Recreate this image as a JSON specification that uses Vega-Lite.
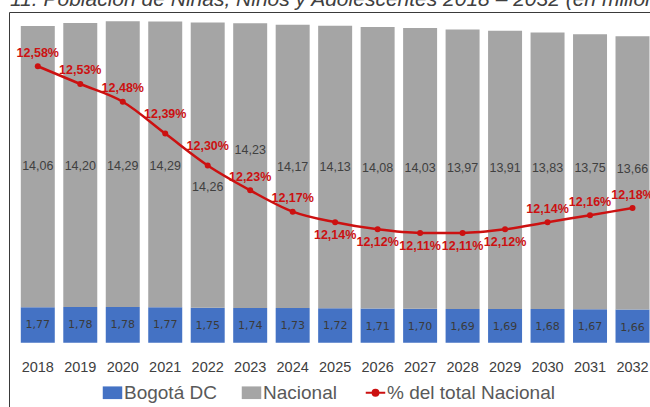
{
  "$schema": "https://vega.github.io/schema/vega-lite/v6.json",
  "width": 641,
  "height": 395,
  "autosize": "none",
  "padding": {"left": 9, "top": 12, "right": 0, "bottom": 0},
  "background": "white",
  "title": {
    "text": "11. Población de Niñas, Niños y Adolescentes 2018 – 2032 (en millones)",
    "anchor": "start",
    "frame": "group",
    "offset": 0,
    "baseline": "alphabetic",
    "dx": 1,
    "dy": 15,
    "font": "Liberation Sans",
    "fontSize": 21,
    "fontStyle": "italic",
    "fontWeight": "normal",
    "color": "#404040",
    "limit": 2000
  },
  "config": {
    "view": {"stroke": "#3a3a3a", "strokeWidth": 1},
    "locale": {"number": {"decimal": ",", "thousands": ".", "grouping": [3], "currency": ["$", ""]}}
  },
  "data": {
    "values": [
      {"year": "2018", "Bogotá DC": 1.77, "Nacional": 14.06, "pct": 0.1258},
      {"year": "2019", "Bogotá DC": 1.78, "Nacional": 14.20, "pct": 0.1253},
      {"year": "2020", "Bogotá DC": 1.78, "Nacional": 14.29, "pct": 0.1248},
      {"year": "2021", "Bogotá DC": 1.77, "Nacional": 14.29, "pct": 0.1239},
      {"year": "2022", "Bogotá DC": 1.75, "Nacional": 14.26, "pct": 0.1230},
      {"year": "2023", "Bogotá DC": 1.74, "Nacional": 14.23, "pct": 0.1223},
      {"year": "2024", "Bogotá DC": 1.73, "Nacional": 14.17, "pct": 0.1217},
      {"year": "2025", "Bogotá DC": 1.72, "Nacional": 14.13, "pct": 0.1214},
      {"year": "2026", "Bogotá DC": 1.71, "Nacional": 14.08, "pct": 0.1212},
      {"year": "2027", "Bogotá DC": 1.70, "Nacional": 14.03, "pct": 0.1211},
      {"year": "2028", "Bogotá DC": 1.69, "Nacional": 13.97, "pct": 0.1211},
      {"year": "2029", "Bogotá DC": 1.69, "Nacional": 13.91, "pct": 0.1212},
      {"year": "2030", "Bogotá DC": 1.68, "Nacional": 13.83, "pct": 0.1214},
      {"year": "2031", "Bogotá DC": 1.67, "Nacional": 13.75, "pct": 0.1216},
      {"year": "2032", "Bogotá DC": 1.66, "Nacional": 13.66, "pct": 0.1218}
    ]
  },
  "encoding": {
    "x": {
      "field": "year",
      "type": "ordinal",
      "scale": {"type": "band", "range": [11.8, 640.5], "paddingInner": 0.2, "paddingOuter": 0},
      "axis": {
        "title": null,
        "orient": "bottom",
        "offset": -40,
        "domain": false,
        "ticks": false,
        "labelPadding": 0,
        "labelBaseline": "middle",
        "labelAngle": 0,
        "labelFont": "Liberation Sans",
        "labelFontSize": 14.5,
        "labelColor": "#404040"
      }
    }
  },
  "layer": [
    {
      "layer": [
        {
          "transform": [{"fold": ["Bogotá DC", "Nacional"], "as": ["serie", "valor"]}],
          "mark": {"type": "bar"},
          "encoding": {
            "y": {"field": "valor", "type": "quantitative", "stack": "zero", "scale": {"domain": [-3.215, 16.535], "nice": false, "zero": false}, "axis": null},
            "color": {
              "field": "serie",
              "type": "nominal",
              "scale": {"domain": ["Bogotá DC", "Nacional", "% del total Nacional"], "range": ["#4472C4", "#A5A5A5", "#CC1111"]},
              "legend": {
                "orient": "none",
                "legendX": 94,
                "legendY": 371,
                "direction": "horizontal",
                "title": null,
                "symbolSize": 380,
                "labelFont": "Liberation Sans",
                "labelFontSize": 19,
                "labelColor": "#595959",
                "labelOffset": 2,
                "labelLimit": 400,
                "columnPadding": 24,
                "padding": 0,
                "symbolStrokeWidth": 0,
                "encode": {
                  "symbols": {
                    "update": {
                      "shape": {"signal": "datum.value === '% del total Nacional' ? 'M-1,0H1M-0.3,0A0.3,0.3 0 1,1 0.3,0A0.3,0.3 0 1,1 -0.3,0Z' : 'M-1,-0.65H1V0.65H-1Z'"},
                      "fill": {"signal": "scale('color', datum.value)"},
                      "stroke": {"signal": "scale('color', datum.value)"},
                      "strokeWidth": {"signal": "datum.value === '% del total Nacional' ? 2 : 0"},
                      "opacity": {"value": 1},
                      "fillOpacity": {"value": 1}
                    }
                  }
                }
              }
            },
            "order": {"field": "serie", "sort": "ascending"}
          }
        },
        {
          "mark": {"type": "text", "baseline": "middle", "dy": 18, "font": "DejaVu Sans", "fontSize": 11, "color": "#3a3a3a"},
          "encoding": {
            "y": {"field": "Bogotá DC", "type": "quantitative", "scale": {"domain": [-3.215, 16.535], "nice": false, "zero": false}},
            "text": {"field": "Bogotá DC", "type": "quantitative", "format": ".2f"}
          }
        },
        {
          "transform": [{"filter": "datum.year !== '2022' && datum.year !== '2023'"}],
          "mark": {"type": "text", "baseline": "middle", "dy": -141, "font": "Liberation Sans", "fontSize": 12.5, "color": "#404040"},
          "encoding": {
            "y": {"field": "Bogotá DC", "type": "quantitative", "scale": {"domain": [-3.215, 16.535], "nice": false, "zero": false}},
            "text": {"field": "Nacional", "type": "quantitative", "format": ".2f"}
          }
        },
        {
          "transform": [{"filter": "datum.year === '2022'"}],
          "mark": {"type": "text", "baseline": "middle", "dy": -121, "font": "Liberation Sans", "fontSize": 12.5, "color": "#404040"},
          "encoding": {
            "y": {"field": "Bogotá DC", "type": "quantitative", "scale": {"domain": [-3.215, 16.535], "nice": false, "zero": false}},
            "text": {"field": "Nacional", "type": "quantitative", "format": ".2f"}
          }
        },
        {
          "transform": [{"filter": "datum.year === '2023'"}],
          "mark": {"type": "text", "baseline": "middle", "dy": -158, "font": "Liberation Sans", "fontSize": 12.5, "color": "#404040"},
          "encoding": {
            "y": {"field": "Bogotá DC", "type": "quantitative", "scale": {"domain": [-3.215, 16.535], "nice": false, "zero": false}},
            "text": {"field": "Nacional", "type": "quantitative", "format": ".2f"}
          }
        }
      ]
    },
    {
      "layer": [
        {
          "mark": {"type": "line", "interpolate": "monotone", "strokeWidth": 2.5, "point": {"filled": true, "size": 36}},
          "encoding": {
            "y": {"field": "pct", "type": "quantitative", "scale": {"domain": [0.11619, 0.12733], "nice": false, "zero": false}, "axis": null},
            "color": {"datum": "% del total Nacional"}
          }
        },
        {
          "transform": [{"filter": "indexof(['2018','2019','2020','2023','2024','2030','2031','2032'], datum.year) >= 0"}],
          "mark": {"type": "text", "baseline": "middle", "dy": -13.5, "font": "Liberation Sans", "fontSize": 12.5, "fontWeight": "bold", "color": "#CC1111"},
          "encoding": {
            "y": {"field": "pct", "type": "quantitative", "scale": {"domain": [0.11619, 0.12733], "nice": false, "zero": false}},
            "text": {"field": "pct", "type": "quantitative", "format": ".2%"}
          }
        },
        {
          "transform": [{"filter": "datum.year === '2021' || datum.year === '2022'"}],
          "mark": {"type": "text", "baseline": "middle", "dy": -19.5, "font": "Liberation Sans", "fontSize": 12.5, "fontWeight": "bold", "color": "#CC1111"},
          "encoding": {
            "y": {"field": "pct", "type": "quantitative", "scale": {"domain": [0.11619, 0.12733], "nice": false, "zero": false}},
            "text": {"field": "pct", "type": "quantitative", "format": ".2%"}
          }
        },
        {
          "transform": [{"filter": "indexof(['2025','2026','2027','2028','2029'], datum.year) >= 0"}],
          "mark": {"type": "text", "baseline": "middle", "dy": 13, "font": "Liberation Sans", "fontSize": 12.5, "fontWeight": "bold", "color": "#CC1111"},
          "encoding": {
            "y": {"field": "pct", "type": "quantitative", "scale": {"domain": [0.11619, 0.12733], "nice": false, "zero": false}},
            "text": {"field": "pct", "type": "quantitative", "format": ".2%"}
          }
        }
      ]
    }
  ],
  "resolve": {"scale": {"y": "independent"}}
}
